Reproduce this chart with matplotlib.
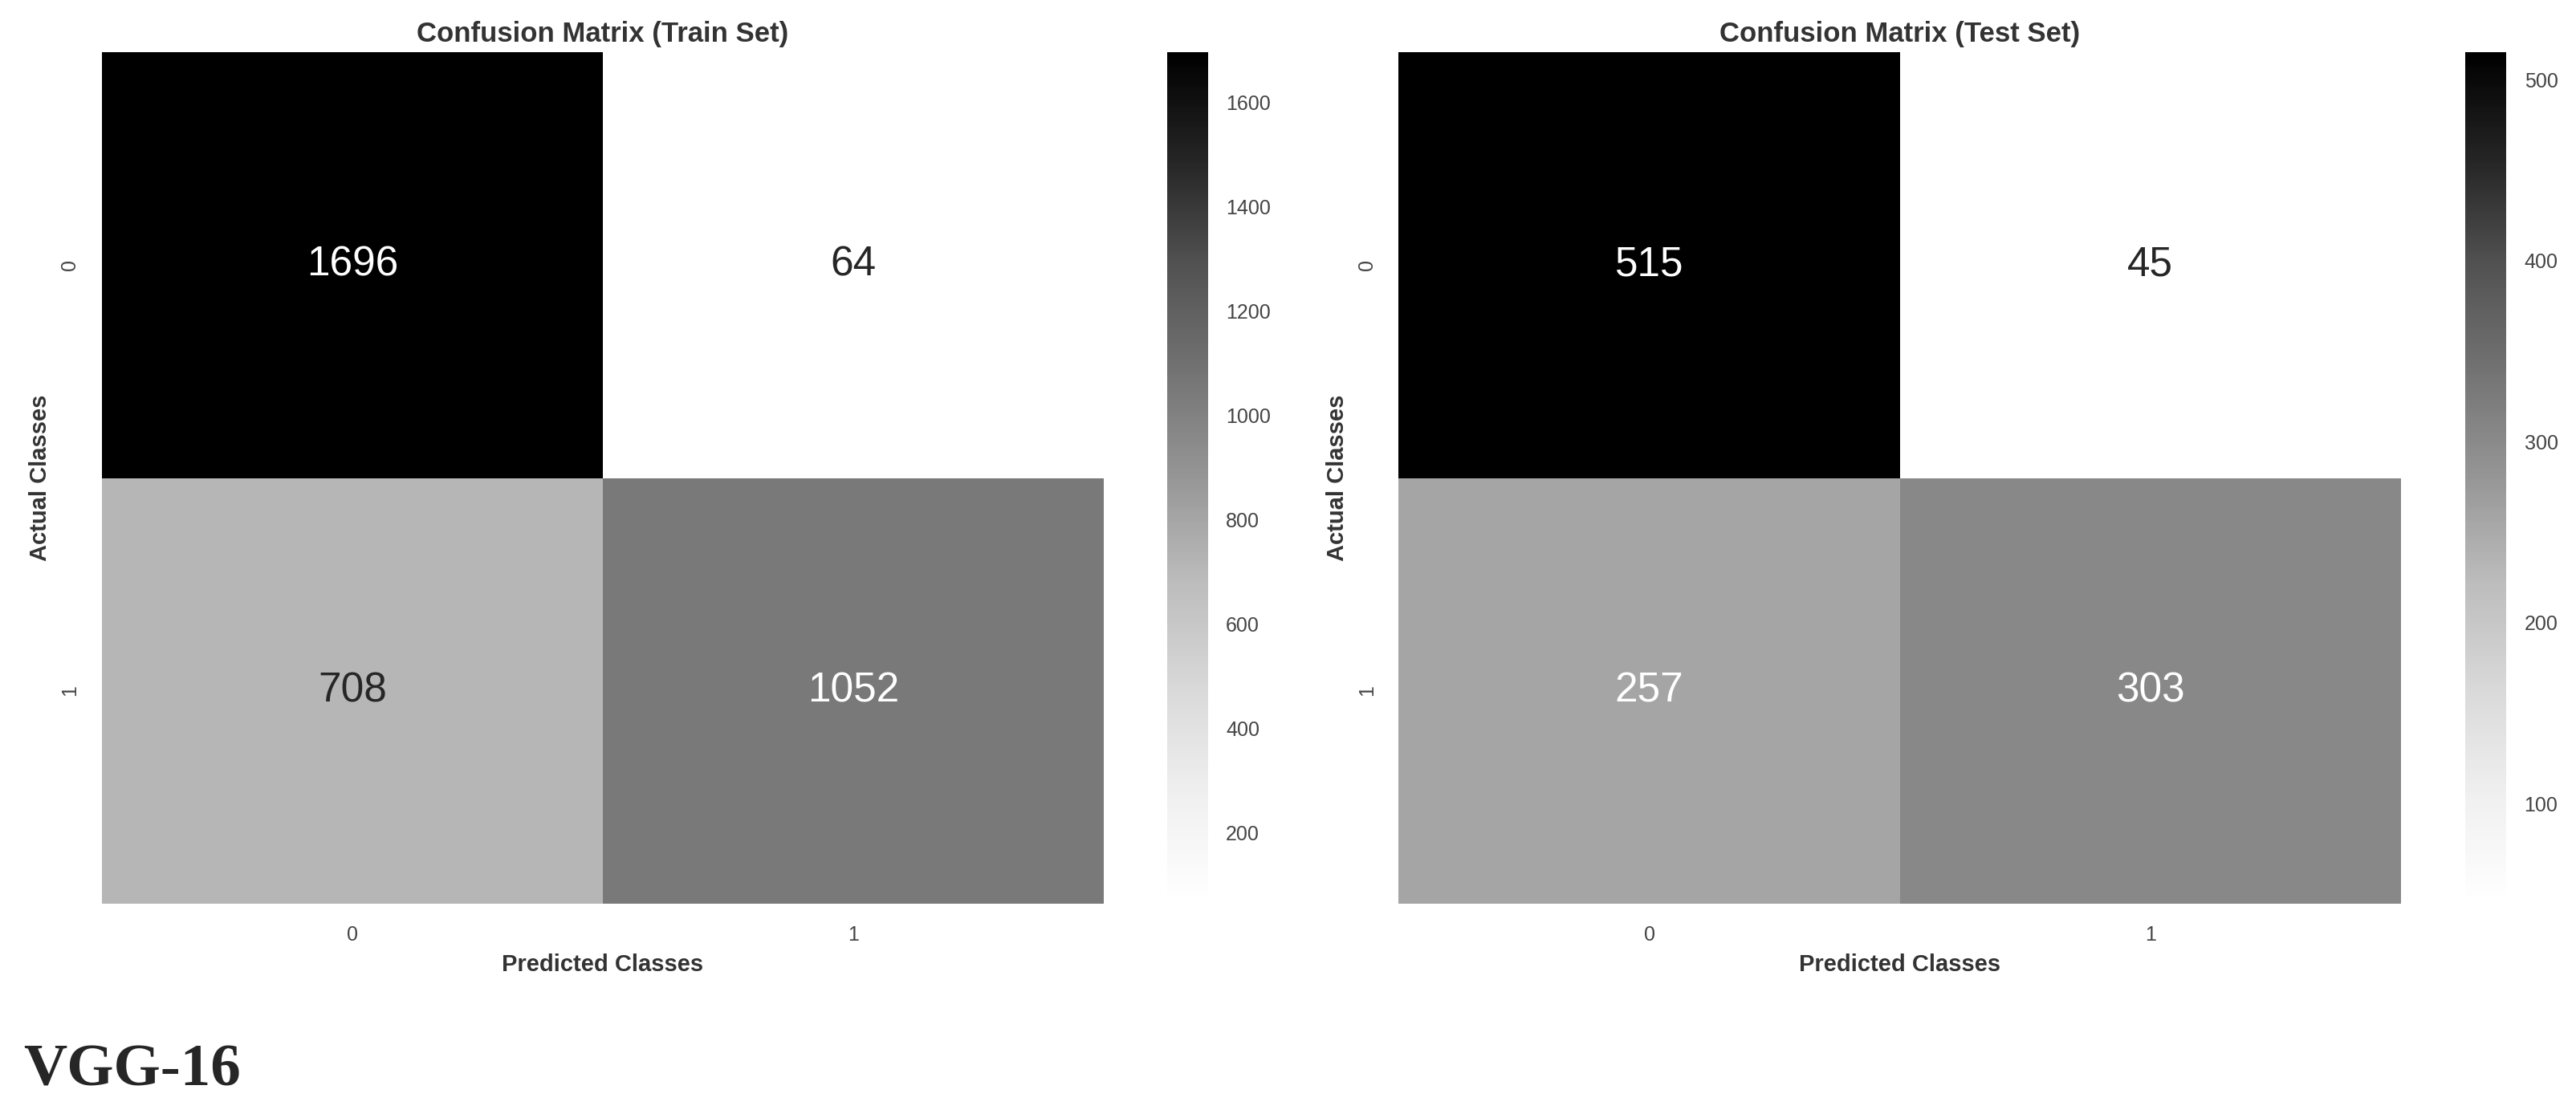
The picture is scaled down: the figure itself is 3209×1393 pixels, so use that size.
import matplotlib
matplotlib.use("Agg")
import matplotlib.pyplot as plt
import seaborn as sns
import numpy as np

sns.set_style("white")
plt.rcParams['font.family'] = ['Liberation Sans', 'DejaVu Sans']

classes = ["0", "1"]
train_cm = np.array([[1696, 64], [708, 1052]])
test_cm = np.array([[515, 45], [257, 303]])
train_ticks = [200, 400, 600, 800, 1000, 1200, 1400, 1600]
test_ticks = [100, 200, 300, 400, 500]

fig = plt.figure(figsize=(16.045, 6.965), dpi=200)
specs = [
    (train_cm, "Confusion Matrix (Train Set)", train_ticks, 0.0395, 0.453),
    (test_cm, "Confusion Matrix (Test Set)", test_ticks, 0.543, 0.957),
]
for cm, title, ticks, axl, cbl in specs:
    ax = fig.add_axes([axl, 0.192, 0.389, 0.761])
    cax = fig.add_axes([cbl, 0.192, 0.016, 0.761])
    sns.heatmap(cm, annot=True, fmt="d", cmap="Greys", ax=ax, cbar_ax=cax,
                annot_kws={"size": 18.5}, xticklabels=classes, yticklabels=classes)
    ax.set_title(title, fontsize=12.5, fontweight="bold", color="#333333", pad=5)
    ax.set_xlabel("Predicted Classes", fontsize=10.5, fontweight="bold", color="#333333")
    ax.set_ylabel("Actual Classes", fontsize=10.5, fontweight="bold", color="#333333")
    ax.tick_params(length=0, labelsize=9, colors="#444444", pad=10)
    cax.set_yticks(ticks)
    cax.tick_params(length=0, labelsize=9, colors="#444444", pad=8)
    for s in cax.spines.values():
        s.set_visible(False)

fig.text(0.009, 0.042, "VGG-16", fontsize=27, fontweight="bold",
         family=["Liberation Serif", "DejaVu Serif"], ha="left", va="center")
fig.savefig("out.png", dpi=200)
